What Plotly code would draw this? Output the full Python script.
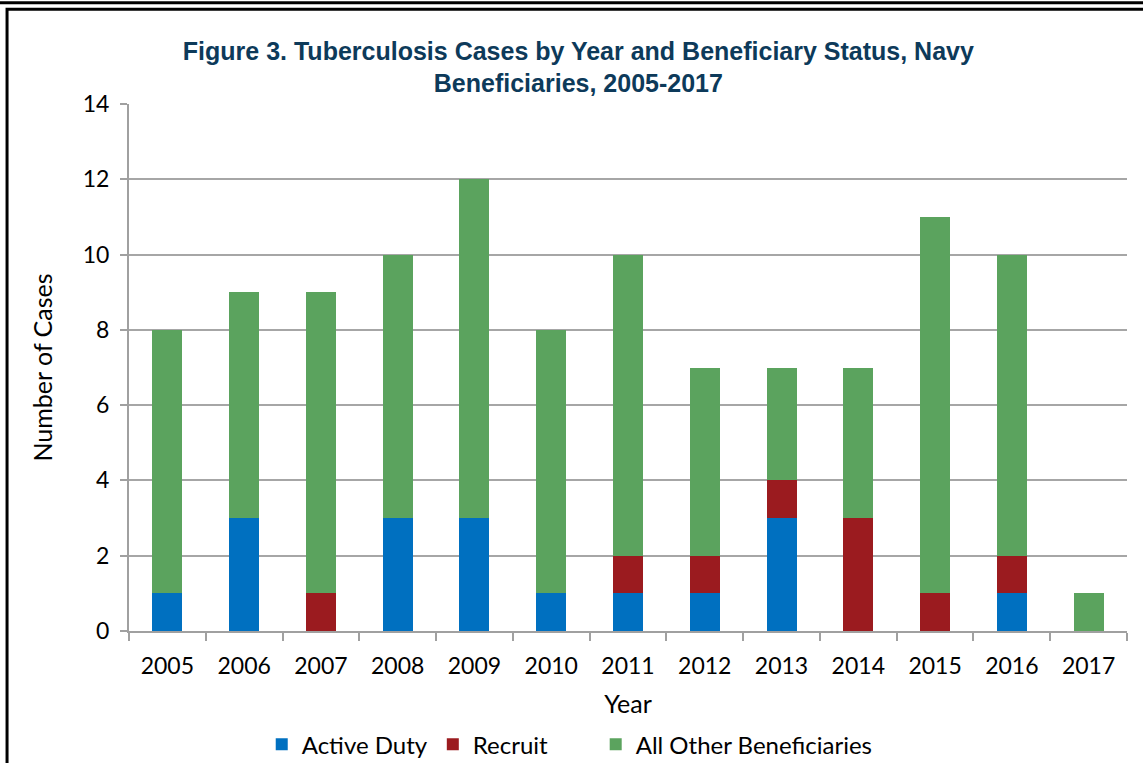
import plotly.graph_objects as go

years = ["2005", "2006", "2007", "2008", "2009", "2010", "2011",
         "2012", "2013", "2014", "2015", "2016", "2017"]
active_duty = [1, 3, 0, 3, 3, 1, 1, 1, 3, 0, 0, 1, 0]
recruit = [0, 0, 1, 0, 0, 0, 1, 1, 1, 3, 1, 1, 0]
all_other = [7, 6, 8, 7, 9, 7, 8, 5, 3, 4, 10, 8, 1]

# legend labels; the trailing no-break spaces widen the gap after "Recruit"
series = [
    ("Active Duty", active_duty, "#0070C0"),
    ("Recruit" + "\u00a0" * 7, recruit, "#9B1B1F"),
    ("All Other Beneficiaries", all_other, "#5BA35E"),
]

fig = go.Figure()
for name, vals, color in series:
    fig.add_trace(go.Bar(x=years, y=vals, name=name, marker_color=color,
                         marker_line_width=0))

axis_font = dict(family="Lato, Open Sans, sans-serif", size=23, color="#000000")
title_font = dict(family="Lato, Open Sans, sans-serif", size=25, color="#000000")
legend_font = dict(family="Lato, Open Sans, sans-serif", size=24, color="#000000")

fig.update_layout(
    width=1143, height=763,
    barmode="stack", bargap=0.61,
    paper_bgcolor="white", plot_bgcolor="white",
    margin=dict(l=129, r=16, t=104, b=132, autoexpand=False),
    title=dict(
        text="Figure 3. Tuberculosis Cases by Year and Beneficiary Status, Navy<br>Beneficiaries, 2005-2017",
        x=0.506, xanchor="center", y=0.922, yanchor="top",
        font=dict(family="Liberation Sans Narrow, Arial Narrow, Liberation Sans, sans-serif",
                  size=25, color="#0D3A5A", weight="bold"),
    ),
    legend=dict(orientation="h", x=0.133, xanchor="left",
                yref="container", y=0.024, yanchor="middle",
                font=legend_font, traceorder="normal"),
    showlegend=True,
)

fig.update_xaxes(
    showline=True, linecolor="#A0A0A0", linewidth=2,
    ticks="outside", tickson="boundaries", ticklen=8, tickcolor="#A0A0A0",
    tickwidth=2, tickfont=axis_font, ticklabelstandoff=13, automargin=False,
    title=dict(text="Year", font=title_font, standoff=18),
)
fig.update_yaxes(
    range=[0, 14], dtick=2,
    showline=True, linecolor="#A0A0A0", linewidth=2,
    showgrid=True, gridcolor="#A6A6A6", gridwidth=2,
    ticks="outside", ticklen=7, tickcolor="#A0A0A0", tickwidth=2,
    tickfont=axis_font, zeroline=False, ticklabelstandoff=6, automargin=False,
    title=dict(text="Number of Cases", font=title_font, standoff=23),
)

# page frame lines around the figure
fig.add_shape(type="line", xref="paper", yref="paper",
              x0=-0.2, x1=1.1, y0=1.192, y1=1.192,
              line=dict(color="black", width=3))
fig.add_shape(type="rect", xref="paper", yref="paper",
              x0=-0.1222, x1=1.1, y0=-0.3, y1=1.180,
              line=dict(color="black", width=3))

# drop the default page margin so the figure sits at the window's corner
fig.write_html("out.html", config={"displayModeBar": False},
               post_script="document.body.style.margin='0';")
